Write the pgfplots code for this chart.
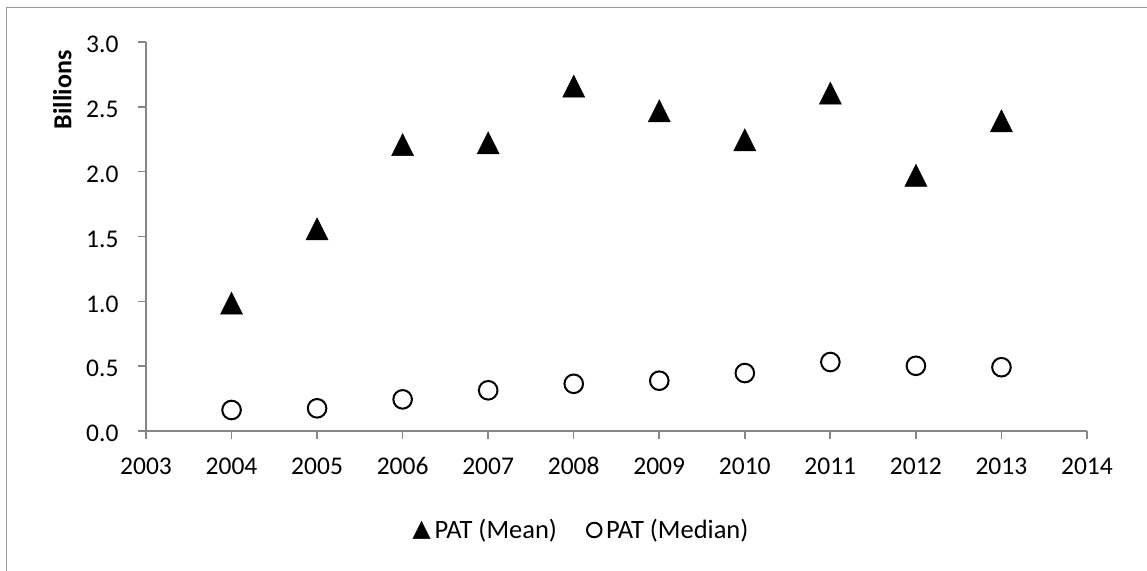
\documentclass[border=0pt]{standalone}
\usepackage{pgfplots}
\pgfplotsset{compat=1.18}
\usepackage{fontspec}
\setmainfont{Carlito}
\definecolor{axgray}{HTML}{868686}
\definecolor{bordergray}{HTML}{9A9A9A}
\pgfdeclareplotmark{xltri}{%
  \pgfpathmoveto{\pgfqpoint{0pt}{11pt}}%
  \pgfpathlineto{\pgfqpoint{11pt}{-11pt}}%
  \pgfpathlineto{\pgfqpoint{-11pt}{-11pt}}%
  \pgfpathclose\pgfusepathqfillstroke}
\begin{document}
\begin{tikzpicture}
\path[use as bounding box] (0pt,0pt) rectangle (1147pt,-570pt);
\draw[bordergray, line width=1.6pt] (6.5pt,-575pt) -- (6.5pt,-7.3pt) -- (1155pt,-7.3pt);
\begin{axis}[
  at={(146pt,-431pt)}, anchor=south west,
  scale only axis, width=941pt, height=389pt,
  xmin=2003, xmax=2014, ymin=0, ymax=3,
  xtick={2003,...,2014}, ytick={0,0.5,...,3},
  axis x line*=bottom, axis y line*=left,
  axis line style={axgray, line width=1.6pt, -},
  tick style={axgray, line width=1.6pt},
  tick align=outside, major tick length=8pt,
  x tick label style={/pgf/number format/1000 sep={}},
  y tick label style={/pgf/number format/fixed, /pgf/number format/fixed zerofill, /pgf/number format/precision=1},
  /pgf/number format/assume math mode=true,
  tick label style={font=\fontsize{25.5}{30}\selectfont, text=black},
  xticklabel style={anchor=north, text height=16pt, text depth=0pt, yshift=-16pt},
  yticklabel style={xshift=-16pt, yshift=-2.5pt},
  clip=false,
  legend style={at={(0.463,-0.2545)}, anchor=center, draw=none, fill=none,
    font=\fontsize{26.5}{30}\selectfont, legend columns=2,
    /tikz/every even column/.append style={column sep=28pt},
    /tikz/every odd column/.append style={column sep=2.5pt}},
  legend cell align=left,
  legend image code/.code={\draw[#1, every mark/.append style={scale=0.78}] plot coordinates {(0pt,0pt)};},
]
\addplot[only marks, mark=xltri, mark options={fill=black, draw=black, line width=0.5pt}]
  coordinates {(2004,0.986) (2005,1.559) (2006,2.208) (2007,2.222) (2008,2.659)
   (2009,2.469) (2010,2.246) (2011,2.605) (2012,1.972) (2013,2.392)};
\addlegendentry{PAT (Mean)}
\addplot[only marks, mark=o, mark size=9.3pt, mark options={draw=black, fill=white, line width=2pt}]
  coordinates {(2004,0.162) (2005,0.175) (2006,0.244) (2007,0.314) (2008,0.364)
   (2009,0.388) (2010,0.447) (2011,0.532) (2012,0.503) (2013,0.492)};
\addlegendentry{PAT (Median)}
\node[rotate=90, font=\fontsize{26}{30}\selectfont\bfseries] at (axis description cs:-0.089,0.877) {Billions};
\end{axis}
\end{tikzpicture}
\end{document}
